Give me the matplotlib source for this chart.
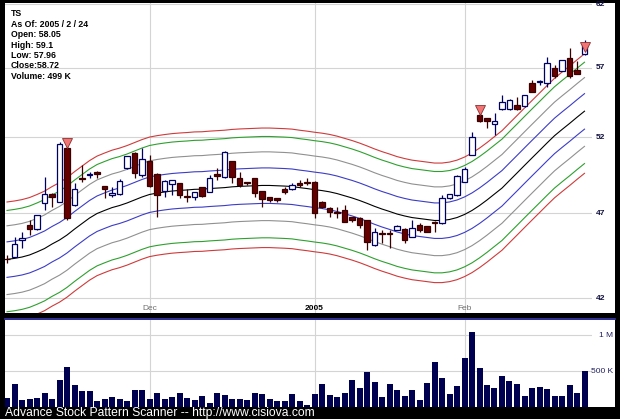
import numpy as np
import matplotlib
matplotlib.use("Agg")
import matplotlib.pyplot as plt
from matplotlib.patches import Rectangle
from matplotlib.ticker import NullLocator

# TS daily bars, Nov 3 2004 .. Feb 24 2005
opens = [44.25, 44.38, 45.37, 46.28, 46.01, 47.63, 48.20, 47.73, 51.22, 47.52,
         49.27, 49.43, 49.67, 48.73, 48.16, 48.20, 49.89, 50.93, 49.45, 50.37,
         49.52, 48.43, 48.84, 48.91, 48.10, 48.06, 48.69, 48.36, 49.50, 49.34,
         50.37, 49.23, 48.98, 49.23, 48.41, 48.03, 47.95, 48.52, 48.52, 48.95,
         49.01, 49.01, 47.69, 47.35, 47.10, 47.21, 46.75, 46.69, 46.59, 45.07,
         45.77, 45.78, 45.97, 46.01, 45.57, 46.28, 46.22, 46.48, 46.38, 47.95,
         48.16, 49.01, 50.78, 53.54, 53.31, 52.91, 53.94, 53.94, 54.25, 54.18,
         55.88, 55.93, 55.83, 56.99, 56.76, 57.76, 56.83, 58.05]
highs = [44.48, 45.57, 45.87, 46.59, 46.92, 49.34, 48.28, 51.68, 51.40, 48.91,
         50.11, 49.67, 49.70, 48.75, 48.65, 49.18, 50.74, 50.95, 51.22, 50.78,
         49.55, 49.12, 49.14, 48.93, 48.54, 48.35, 48.70, 49.45, 49.89, 51.02,
         50.40, 49.67, 49.02, 49.25, 48.43, 48.05, 47.99, 48.69, 48.95, 49.12,
         49.23, 49.05, 47.75, 47.41, 47.41, 47.52, 46.79, 46.75, 46.61, 46.07,
         45.97, 45.97, 46.28, 46.07, 46.59, 46.38, 46.24, 46.50, 48.16, 48.25,
         49.45, 50.00, 52.37, 53.65, 53.35, 53.65, 54.97, 54.65, 54.85, 55.00,
         56.08, 56.08, 57.85, 57.20, 57.62, 58.47, 57.48, 59.10]
lows = [44.00, 44.35, 44.89, 45.67, 45.97, 47.21, 47.39, 47.70, 46.60, 47.46,
        49.01, 49.23, 49.23, 47.95, 48.01, 48.18, 49.85, 49.23, 49.34, 48.70,
        46.79, 48.05, 48.16, 47.95, 47.73, 47.84, 48.05, 48.33, 49.12, 49.23,
        48.91, 48.69, 48.80, 48.05, 47.41, 47.73, 47.73, 48.22, 48.47, 48.69,
        48.80, 46.69, 47.35, 46.79, 46.69, 46.45, 46.48, 46.07, 44.77, 45.01,
        45.17, 44.89, 45.95, 45.17, 45.55, 45.87, 45.83, 45.87, 46.36, 47.92,
        48.10, 48.98, 50.75, 53.07, 52.61, 52.14, 53.89, 53.90, 53.89, 54.13,
        55.19, 55.71, 55.55, 56.21, 56.72, 56.21, 56.50, 57.96]
closes = [44.22, 45.13, 45.51, 46.01, 46.90, 48.20, 48.01, 51.50, 46.69, 48.52,
          49.16, 49.52, 49.52, 48.52, 48.30, 49.05, 50.71, 49.58, 50.49, 48.73,
          48.16, 49.07, 49.12, 48.16, 48.06, 48.33, 48.10, 49.23, 49.41, 51.00,
          49.34, 48.80, 48.91, 48.26, 47.89, 47.84, 47.84, 48.36, 48.80, 48.80,
          48.95, 47.00, 47.41, 47.10, 47.04, 46.48, 46.59, 46.28, 45.27, 45.87,
          45.73, 45.75, 46.24, 45.37, 46.07, 45.97, 45.87, 46.42, 47.95, 48.20,
          49.39, 49.82, 52.02, 53.14, 53.14, 53.14, 54.49, 54.61, 53.94, 54.97,
          55.21, 55.97, 57.33, 56.38, 57.58, 56.38, 56.53, 58.72]
volume_k = [125, 313, 93, 117, 126, 191, 107, 372, 558, 303,
            223, 223, 84, 107, 145, 107, 84, 233, 242, 112,
            191, 112, 135, 191, 121, 93, 149, 56, 191, 163,
            112, 107, 98, 191, 177, 107, 84, 84, 177, 84,
            23, 177, 317, 163, 145, 200, 372, 261, 488, 344,
            140, 317, 233, 149, 233, 93, 340, 623, 409, 177,
            289, 679, 1042, 540, 307, 261, 428, 363, 317, 149,
            261, 279, 251, 149, 149, 307, 191, 494]
# smoothed centre line (black) of the envelope
center = [44.22, 44.28, 44.36, 44.48, 44.66, 44.86, 45.13, 45.37, 45.67, 46.03,
          46.37, 46.71, 46.99, 47.18, 47.36, 47.49, 47.65, 47.84, 48.03, 48.19,
          48.28, 48.35, 48.41, 48.45, 48.48, 48.52, 48.53, 48.57, 48.60, 48.63,
          48.68, 48.71, 48.73, 48.75, 48.77, 48.77, 48.75, 48.73, 48.70, 48.63,
          48.57, 48.50, 48.44, 48.36, 48.25, 48.11, 47.97, 47.81, 47.63, 47.44,
          47.27, 47.12, 46.96, 46.84, 46.74, 46.68, 46.62, 46.56, 46.56, 46.62,
          46.74, 46.93, 47.18, 47.49, 47.84, 48.22, 48.60, 49.09, 49.58, 50.08,
          50.58, 51.08, 51.59, 52.09, 52.52, 52.94, 53.38, 53.81]
band_pct = [0.0235, 0.0455, 0.067, 0.079]
band_colors = ["#3c3cc8", "#909090", "#2ea02e", "#d03a3a"]

signal_idx = [8, 63, 77]
signal_price = [51.6, 53.9, 58.6]

month_idx = [19, 41, 61]
month_labels = ["Dec", "2005", "Feb"]
price_ticks = [42, 47, 52, 57, 62]

info_lines = ["TS", "As Of: 2005 / 2 / 24", "Open: 58.05", "High: 59.1",
              "Low: 57.96", "Close:58.72", "Volume: 499 K"]

W, H = 620, 419
fig = plt.figure(figsize=(W / 100, H / 100), dpi=100, facecolor="black")


def frect(x0, y0, x1, y1):
    # pixel box (top-left origin) -> figure fraction rect
    return [x0 / W, 1 - y1 / H, (x1 - x0) / W, (y1 - y0) / H]


# white panels (incl. label strip on the right)
bg_price = Rectangle((5 / W, 1 - 313 / H), 610 / W, 310 / H,
                     transform=fig.transFigure, facecolor="white", zorder=-5)
bg_vol = Rectangle((5 / W, 1 - 407 / H), 610 / W, 87 / H,
                   transform=fig.transFigure, facecolor="white", zorder=-5)
fig.patches.extend([bg_price, bg_vol])
fig.add_artist(plt.Line2D([5 / W, 615 / W], [1 - 319 / H, 1 - 319 / H],
                          transform=fig.transFigure, color="#3a3ab0", lw=1.2,
                          zorder=-4))

idx = np.arange(len(closes))
o = np.array(opens)
c = np.array(closes)
up = c >= o
xlim = ((5 - 7) / 7.5, (592 - 7) / 7.5)

# ---- price panel
ax = fig.add_axes(frect(5, 3, 592, 313))
ax.set_zorder(2)
ax.patch.set_alpha(0)
ax.set_yscale("log")
ax.set_ylim(41.19, 62.10)
ax.set_xlim(*xlim)
ax.yaxis.set_minor_locator(NullLocator())
ax.set_yticks(price_ticks)
ax.set_xticks(month_idx)
ax.tick_params(length=0, labelbottom=False, labelleft=False)
ax.grid(True, color="#d4d4d4", lw=0.8)
ax.set_axisbelow(True)
for s in ax.spines.values():
    s.set_visible(False)

cen = np.array(center)
for k, col in zip(band_pct, band_colors):
    ax.plot(idx, cen * (1 + k), color=col, lw=0.8)
    ax.plot(idx, cen * (1 - k), color=col, lw=0.8)
ax.plot(idx, cen, color="black", lw=0.8)

wick_col = np.where(up, "#000060", "#3a0000")
ax.vlines(idx, lows, highs, colors=wick_col, lw=0.9, zorder=3)
ax.bar(idx[up], (c - o)[up], bottom=o[up], width=0.72, color="white",
       edgecolor="#000060", lw=0.9, zorder=4)
ax.bar(idx[~up], (o - c)[~up], bottom=c[~up], width=0.72, color="#660000",
       edgecolor="#3a0000", lw=0.9, zorder=4)
ax.plot(signal_idx, signal_price, "v", color="#f27575", mec="#8a3030",
        mew=0.6, ms=7, zorder=5)

for t in price_ticks:
    txt = ax.text(1.006, t, str(t), transform=ax.get_yaxis_transform(),
                  fontsize=6, color="#101040", va="center", ha="left",
                  family="Liberation Sans", fontweight="bold")
    txt.set_clip_path(bg_price)
for i, lab in zip(month_idx, month_labels):
    bold = lab == "2005"
    ax.text(i, 0.016, lab, transform=ax.get_xaxis_transform(), ha="center",
            va="center", fontsize=6, family="Liberation Sans",
            color="black" if bold else "#707070",
            fontweight="bold" if bold else "normal")

for n, line in enumerate(info_lines):
    fig.text(11 / W, 1 - (14 + 10.4 * n) / H, line, fontsize=6.3,
             family="Liberation Sans", fontweight="bold", va="center",
             zorder=3)

# ---- volume panel
axv = fig.add_axes(frect(5, 320, 592, 407))
axv.set_zorder(2)
axv.patch.set_alpha(0)
axv.set_xlim(*xlim)
axv.set_ylim(0, 1209)
axv.set_yticks([500, 1000])
axv.set_xticks(month_idx)
axv.tick_params(length=0, labelbottom=False, labelleft=False)
axv.grid(True, color="#d4d4d4", lw=0.8)
axv.set_axisbelow(True)
for s in axv.spines.values():
    s.set_visible(False)
axv.bar(idx, volume_k, width=0.8, color="#000050")
for v, lab in [(1000, "1 M"), (500, "500 K")]:
    axv.text((613 - 5) / 587, v, lab, transform=axv.get_yaxis_transform(),
             fontsize=6, color="#202060", ha="right", va="center",
             family="Liberation Sans")

fig.text(5 / W, 1 - 413 / H,
         "Advance Stock Pattern Scanner -- http://www.cisiova.com",
         color="white", fontsize=8.7, family="Liberation Sans", va="center")

fig.savefig("out.png", dpi=100, facecolor="black")
